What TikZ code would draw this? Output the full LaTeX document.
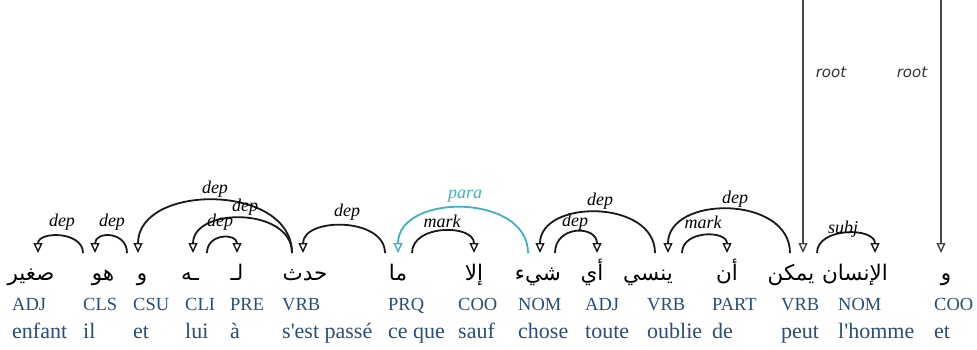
\documentclass[tikz,border=0pt]{standalone}
\usepackage{fontspec}
\setmainfont{Liberation Serif}[Ligatures=TeXOff]
\newfontfamily\arabicfont[Script=Arabic]{DejaVu Sans}
\newfontfamily\rootfont{DejaVu Sans}
\TeXXeTstate=1
\usetikzlibrary{arrows.meta}
\definecolor{tagblue}{RGB}{42,78,120}
\definecolor{parateal}{RGB}{64,178,190}
\tikzset{
  tagtxt/.style={anchor=base west, inner sep=0pt, font=\fontsize{18.5}{20}\selectfont, text=tagblue},
  frtxt/.style={anchor=base west, inner sep=0pt, font=\fontsize{22}{24}\selectfont, text=tagblue},
  artxt/.style={anchor=base, inner sep=0pt, font=\arabicfont\fontsize{21.5}{24}\selectfont},
  arclbl/.style={inner sep=0pt, font=\fontsize{18}{19}\selectfont\itshape},
  rootlbl/.style={inner sep=0pt, font=\rootfont\itshape\fontsize{15}{17}\selectfont, text=black!80},
  deparc/.style={draw=black!90, line width=1.8pt, -{Triangle[open,length=10pt,width=9pt,line width=1.4pt]}},
  rootarrow/.style={draw=black!72, line width=2pt, -{Triangle[open,length=10pt,width=9pt,line width=1.4pt]}},
}
\newcommand\ar[1]{\beginR #1\endR}
\begin{document}
\begin{tikzpicture}[x=1pt,y=-1pt]
\useasboundingbox[fill=white] (0,0) rectangle (977,350);

% Arabic words
\node[artxt] (w1) at (31,280) {\ar{صغير}};
\node[artxt] (w2) at (103,280) {\ar{هو}};
\node[artxt] (w3) at (142,280) {\ar{و}};
\node[artxt] (w4) at (190,280) {\ar{ـه}};
\node[artxt] (w5) at (237,280) {\ar{لـ}};
\node[artxt] (w6) at (305,280) {\ar{حدث}};
\node[artxt] (w7) at (398,280) {\ar{ما}};
\node[artxt] (w8) at (474,280) {\ar{إلا}};
\node[artxt] (w9) at (538,280) {\ar{شيء}};
\node[artxt] (w10) at (592,280) {\ar{أي}};
\node[artxt] (w11) at (648,280) {\ar{ينسي}};
\node[artxt] (w12) at (727,280) {\ar{أن}};
\node[artxt] (w13) at (791,280) {\ar{يمكن}};
\node[artxt] (w14) at (855,280) {\ar{الإنسان}};
\node[artxt] (w15) at (946,280) {\ar{و}};

% POS tags
\node[tagtxt] (t1) at (12,310) {ADJ};
\node[tagtxt] (t2) at (83,310) {CLS};
\node[tagtxt] (t3) at (133,310) {CSU};
\node[tagtxt] (t4) at (185,310) {CLI};
\node[tagtxt] (t5) at (230,310) {PRE};
\node[tagtxt] (t6) at (282,310) {VRB};
\node[tagtxt] (t7) at (388,310) {PRQ};
\node[tagtxt] (t8) at (458,310) {COO};
\node[tagtxt] (t9) at (518,310) {NOM};
\node[tagtxt] (t10) at (585,310) {ADJ};
\node[tagtxt] (t11) at (647,310) {VRB};
\node[tagtxt] (t12) at (712,310) {PART};
\node[tagtxt] (t13) at (781,310) {VRB};
\node[tagtxt] (t14) at (838,310) {NOM};
\node[tagtxt] (t15) at (934,310) {COO};

% French glosses
\node[frtxt] (f1) at (12,338) {enfant};
\node[frtxt] (f2) at (83,338) {il};
\node[frtxt] (f3) at (133,338) {et};
\node[frtxt] (f4) at (185,338) {lui};
\node[frtxt] (f5) at (230,338) {à};
\node[frtxt] (f6) at (282,338) {s'est passé};
\node[frtxt] (f7) at (388,338) {ce que};
\node[frtxt] (f8) at (458,338) {sauf};
\node[frtxt] (f9) at (518,338) {chose};
\node[frtxt] (f10) at (585,338) {toute};
\node[frtxt] (f11) at (647,338) {oublie};
\node[frtxt] (f12) at (712,338) {de};
\node[frtxt] (f13) at (781,338) {peut};
\node[frtxt] (f14) at (838,338) {l'homme};
\node[frtxt] (f15) at (934,338) {et};

% arc end points (on top of the words)
\coordinate (p38) at (38,253);
\coordinate (p83) at (83,253);
\coordinate (p95) at (95,253);
\coordinate (p127) at (127,253);
\coordinate (p138) at (138,253);
\coordinate (p193) at (193,253);
\coordinate (p207) at (207,253);
\coordinate (p237) at (237,253);
\coordinate (p292) at (292,253);
\coordinate (p303) at (303,253);
\coordinate (p385) at (385,253);
\coordinate (p398) at (398,253);
\coordinate (p412) at (412,253);
\coordinate (p474) at (474,253);
\coordinate (p528) at (528,253);
\coordinate (p540) at (540,253);
\coordinate (p555) at (555,253);
\coordinate (p597) at (597,253);
\coordinate (p655) at (655,253);
\coordinate (p668) at (668,253);
\coordinate (p682) at (682,253);
\coordinate (p727) at (727,253);
\coordinate (p790) at (790,253);
\coordinate (p817) at (817,253);
\coordinate (p875) at (875,253);
\coordinate (r1top) at (803,0);
\coordinate (r1end) at (803,253);
\coordinate (r2top) at (941,0);
\coordinate (r2end) at (941,253);

% dependency arcs
\draw[deparc] (p83) .. controls +(0,-22) and +(0,-22) .. (p38);
\node[arclbl] (l1) at (62,222) {dep};
\draw[deparc] (p127) .. controls +(0,-22) and +(0,-22) .. (p95);
\node[arclbl] (l2) at (112,222) {dep};
\draw[deparc] (p292) .. controls +(0,-70) and +(0,-70) .. (p138);
\node[arclbl] (l3) at (215,189) {dep};
\draw[deparc] (p292) .. controls +(0,-46) and +(0,-46) .. (p193);
\node[arclbl] (l4) at (245,207) {dep};
\draw[deparc] (p207) .. controls +(0,-20) and +(0,-20) .. (p237);
\node[arclbl] (l5) at (220,222) {dep};
\draw[deparc] (p385) .. controls +(0,-36) and +(0,-36) .. (p303);
\node[arclbl] (l6) at (347,212) {dep};
\draw[deparc, draw=parateal] (p528) .. controls +(0,-60) and +(0,-60) .. (p398);
\node[arclbl, text=parateal] (l7) at (465,196) {para};
\draw[deparc] (p412) .. controls +(0,-29) and +(0,-29) .. (p474);
\node[arclbl] (l8) at (442,221) {mark};
\draw[deparc] (p555) .. controls +(0,-28) and +(0,-28) .. (p597);
\node[arclbl] (l9) at (575,222) {dep};
\draw[deparc] (p655) .. controls +(0,-54) and +(0,-54) .. (p540);
\node[arclbl] (l10) at (600,201) {dep};
\draw[deparc] (p790) .. controls +(0,-58) and +(0,-58) .. (p668);
\node[arclbl] (l11) at (735,199) {dep};
\draw[deparc] (p682) .. controls +(0,-23) and +(0,-23) .. (p727);
\node[arclbl] (l12) at (703,222) {mark};
\draw[deparc] (p817) .. controls +(0,-26) and +(0,-26) .. (p875);
\node[arclbl] (l13) at (843,229) {subj};

% root arrows
\draw[rootarrow] (r1top) -- (r1end);
\node[rootlbl] (rl1) at (831,72) {root};
\draw[rootarrow] (r2top) -- (r2end);
\node[rootlbl] (rl2) at (912,72) {root};
\end{tikzpicture}
\end{document}
